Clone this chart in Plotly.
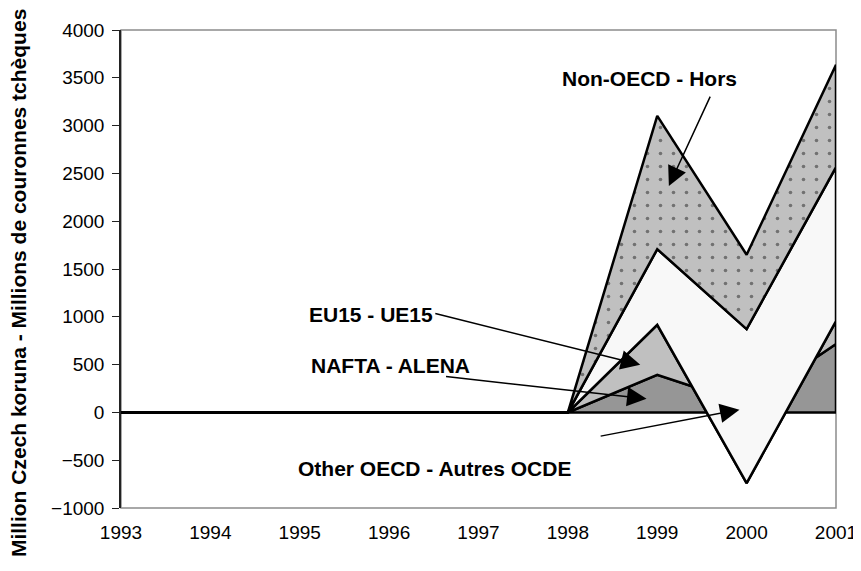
import plotly.graph_objects as go

# Czech FDI flows by partner region, million CZK
years = [1993, 1994, 1995, 1996, 1997, 1998, 1999, 2000, 2001]
nafta = [0, 0, 0, 0, 0, 0, 393, 85, 715]
eu15 = [0, 0, 0, 0, 0, 0, 523, -825, 240]
other_oecd = [0, 0, 0, 0, 0, 0, 792, 1611, 1611]
non_oecd = [0, 0, 0, 0, 0, 0, 1394, 778, 1070]

series_names = ["NAFTA - ALENA", "EU15 - UE15", "Other OECD - Autres OCDE", "Non-OECD - Hors"]
series_values = [nafta, eu15, other_oecd, non_oecd]
series_colors = ["#969696", "#c0c0c0", "#f8f8f8", "#c0c0c0"]

FONT = "Arial, Liberation Sans, sans-serif"

fig = go.Figure()

# Excel-style stacked area: each series is a closed polygon between its
# cumulative top and the previous cumulative line; later ones drawn on top
base = [0] * len(years)
for i, (name, vals) in enumerate(zip(series_names, series_values)):
    top = [b + v for b, v in zip(base, vals)]
    trace = dict(
        x=years + years[::-1],
        y=top + base[::-1],
        mode="lines",
        fill="toself",
        fillcolor=series_colors[i],
        line=dict(color="black", width=2.5),
        name=name,
        hoverinfo="skip",
        showlegend=False,
    )
    if name.startswith("Non-OECD"):
        trace["fillpattern"] = dict(shape=".", fgcolor="#222222", size=13,
                                    solidity=0.06, fillmode="overlay")
    fig.add_trace(go.Scatter(**trace))
    base = top

label_font = dict(family=FONT, size=21, color="black")

# series labels and their arrows (positions in data units)
labels = [
    ("<b>Non-OECD - Hors</b>", 1998.91, 3489),
    ("<b>EU15 - UE15</b>", 1995.80, 1028),
    ("<b>NAFTA - ALENA</b>", 1996.01, 490),
    ("<b>Other OECD - Autres OCDE</b>", 1996.51, -583),
]
for text, lx, ly in labels:
    fig.add_annotation(x=lx, y=ly, text=text, showarrow=False, font=label_font,
                       xanchor="center", yanchor="middle")

arrows = [
    # (tail x, tail y, head x, head y)
    (1999.60, 3319, 1999.13, 2367),
    (1996.50, 1039, 1998.81, 498),
    (1996.62, 377, 1998.88, 142),
    (1998.35, -251, 1999.92, 29),
]
for tx, ty, hx, hy in arrows:
    fig.add_annotation(x=hx, y=hy, ax=tx, ay=ty, axref="x", ayref="y",
                       text="", showarrow=True, arrowhead=2, arrowsize=2.6,
                       arrowwidth=1.5, arrowcolor="black", standoff=0,
                       startstandoff=0, font=dict(size=1))

# y axis title as rotated annotation
fig.add_annotation(
    text="<b>Million Czech koruna - Millions de couronnes tchèques</b>",
    xref="paper", yref="paper", x=-0.143, y=0.47, textangle=-90,
    showarrow=False, font=dict(family=FONT, size=21, color="black"),
    xanchor="center", yanchor="middle",
)

# grey plot-area frame
fig.add_shape(type="rect", xref="x domain", yref="y domain", x0=0, x1=1, y0=0, y1=1,
              line=dict(color="#8c8c8c", width=1.5), layer="below")

tick_font = dict(family=FONT, size=19, color="black")
fig.update_layout(
    width=861, height=571,
    margin=dict(l=113, r=24, t=22, b=71),
    paper_bgcolor="white", plot_bgcolor="white",
    showlegend=False,
    xaxis=dict(
        range=[1993, 2001], tickmode="array", tickvals=years,
        ticktext=[str(y) for y in years], ticks="", showline=False,
        showgrid=False, zeroline=False, tickfont=tick_font,
        ticklabelstandoff=11,
    ),
    yaxis=dict(
        range=[-1000, 4000], dtick=500, ticks="outside", ticklen=7,
        tickcolor="#222", tickwidth=1.2, showline=True, linecolor="#222",
        linewidth=1.5, showgrid=False, zeroline=False, tickfont=tick_font,
        ticklabelstandoff=4,
    ),
    # inner half of the crossing y ticks
    yaxis2=dict(
        overlaying="y", anchor="x", side="left", range=[-1000, 4000], dtick=500,
        ticks="inside", ticklen=7, tickcolor="#222", tickwidth=1.2,
        showticklabels=False, showline=False, showgrid=False, zeroline=False,
    ),
    # crossing ticks on the category axis at y = 0
    xaxis2=dict(
        overlaying="x", anchor="free", position=0.2, range=[1993, 2001],
        tickmode="array", tickvals=years, ticks="outside", ticklen=6,
        tickcolor="black", tickwidth=1.2, showticklabels=False,
        showline=False, showgrid=False, zeroline=False,
    ),
    xaxis3=dict(
        overlaying="x", anchor="free", position=0.2, range=[1993, 2001],
        tickmode="array", tickvals=years, ticks="inside", ticklen=6,
        tickcolor="black", tickwidth=1.2, showticklabels=False,
        showline=False, showgrid=False, zeroline=False,
    ),
)

fig.write_html("out.html")
